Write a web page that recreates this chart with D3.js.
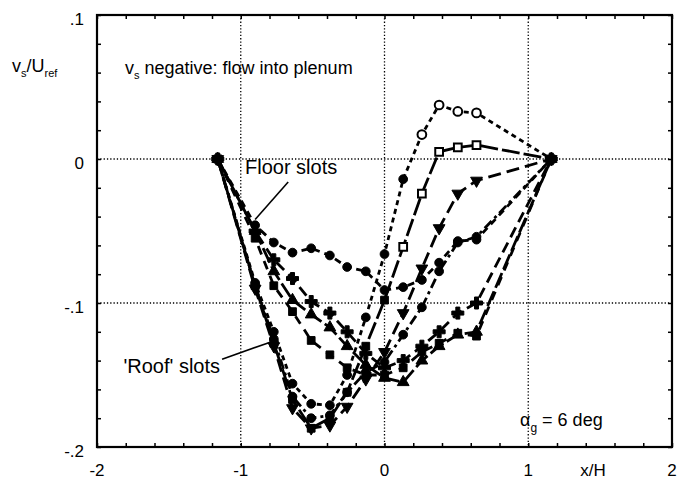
<!DOCTYPE html>
<html><head><meta charset="utf-8">
<script src="https://cdn.jsdelivr.net/npm/d3@7"></script>
<style>html,body{margin:0;padding:0;background:#fff;}svg{display:block;font-family:"Liberation Sans",Arial,Helvetica,sans-serif;}</style>
</head><body>
<svg id="c" width="682" height="482"></svg>
<script>
// ---- data ----
const xPos = [-1.16, -0.9, -0.77, -0.64, -0.51, -0.38, -0.26, -0.13, 0, 0.13, 0.26, 0.38, 0.51, 0.64, 1.16];
// Floor slots
const floorCircles   = [0, -0.046, -0.058, -0.065, -0.062, -0.067, -0.075, -0.078, -0.091, -0.089, -0.084, -0.072, -0.057, -0.056, 0];
const floorPlus      = [0, -0.050, -0.070, -0.083, -0.099, -0.107, -0.120, -0.135, -0.145, -0.140, -0.130, -0.120, -0.107, -0.100, 0];
const floorTriangles = [0, -0.050, -0.078, -0.098, -0.108, -0.117, -0.130, -0.143, -0.152, -0.155, -0.140, -0.130, -0.122, -0.120, 0];
const floorSquares   = [0, -0.055, -0.088, -0.106, -0.126, -0.136, -0.145, -0.150, -0.150, -0.145, -0.134, -0.128, -0.121, -0.123, 0];
// 'Roof' slots
const roofCircles    = [0, -0.086, -0.120, -0.156, -0.170, -0.171, -0.150, -0.110, -0.066, -0.014, 0.017, 0.0375, 0.033, 0.032, 0];
const roofSquares    = [0, -0.088, -0.128, -0.167, -0.187, -0.180, -0.162, -0.130, -0.098, -0.061, -0.024, 0.005, 0.008, 0.0097, 0];
const roofTriangles  = [0, -0.090, -0.130, -0.173, -0.187, -0.185, -0.172, -0.153, -0.134, -0.107, -0.076, -0.048, -0.024, -0.015, 0];
const roofDots       = [0, -0.088, -0.125, -0.165, -0.180, -0.178, -0.162, -0.148, -0.141, -0.122, -0.103, -0.078, -0.058, -0.054, 0];

const xTickValues = [-2, -1, 0, 1, 2];
const xTickLabels = ["-2", "-1", "0", "1", "2"];
const yTickValues = [0.1, 0, -0.1, -0.2];
const yTickLabels = [".1", "0", "-.1", "-.2"];

// ---- styles (kept separate from data) ----
const seriesList = [
  {v: floorCircles,   m: "circle",  dash: "7,5",        hollowFrom: 99},
  {v: floorPlus,      m: "plus",    dash: "11,6",       hollowFrom: 99},
  {v: floorTriangles, m: "triUp",   dash: "16,4",       hollowFrom: 99},
  {v: floorSquares,   m: "square",  dash: "9,7",        hollowFrom: 99},
  {v: roofCircles,    m: "circle",  dash: "5,4",        hollowFrom: 0.2},
  {v: roofSquares,    m: "square",  dash: "18,4",       hollowFrom: 0.1},
  {v: roofTriangles,  m: "triDown", dash: "13,6",       hollowFrom: 99},
  {v: roofDots,       m: "circle",  dash: "10,4,3,4",   hollowFrom: 99}
];

const svg = d3.select("#c");
const x = d3.scaleLinear().domain([-2, 2]).range([97, 672]);
const y = d3.scaleLinear().domain([-0.2, 0.1]).range([447, 15]);

// grid
const g = svg.append("g");
[-1, 0, 1].forEach(v => g.append("line").attr("x1", x(v)).attr("x2", x(v)).attr("y1", y(0.1)).attr("y2", y(-0.2))
  .attr("stroke", "#000").attr("stroke-width", 1.3).attr("stroke-dasharray", "1.3,2"));
[0, -0.1].forEach(v => g.append("line").attr("x1", x(-2)).attr("x2", x(2)).attr("y1", y(v)).attr("y2", y(v))
  .attr("stroke", "#000").attr("stroke-width", 1.3).attr("stroke-dasharray", "1.3,2"));

// axes with inward minor ticks
const xt = d3.range(-2, 2.0001, 0.2);
const yt = d3.range(-0.2, 0.1001, 0.02);
svg.append("g").attr("transform", `translate(0,${y(-0.2)})`).call(d3.axisBottom(x).tickValues(xt).tickSize(-4).tickFormat("")).call(s => s.select(".domain").remove());
svg.append("g").attr("transform", `translate(0,${y(0.1)})`).call(d3.axisTop(x).tickValues(xt).tickSize(-4).tickFormat("")).call(s => s.select(".domain").remove());
svg.append("g").attr("transform", `translate(${x(-2)},0)`).call(d3.axisLeft(y).tickValues(yt).tickSize(-4).tickFormat("")).call(s => s.select(".domain").remove());
svg.append("g").attr("transform", `translate(${x(2)},0)`).call(d3.axisRight(y).tickValues(yt).tickSize(-4).tickFormat("")).call(s => s.select(".domain").remove());
svg.selectAll(".tick line").attr("stroke-width", 1.5);

// frame
svg.append("rect").attr("x", x(-2)).attr("y", y(0.1)).attr("width", x(2) - x(-2)).attr("height", y(-0.2) - y(0.1))
  .attr("fill", "none").attr("stroke", "#000").attr("stroke-width", 2.2);

// tick labels
xTickValues.forEach((v, i) => svg.append("text").attr("x", x(v)).attr("y", 476).attr("text-anchor", "middle")
  .attr("font-size", 17).text(xTickLabels[i]));
yTickValues.forEach((v, i) => svg.append("text").attr("x", 84).attr("y", y(v) + 10).attr("text-anchor", "end")
  .attr("font-size", 17).text(yTickLabels[i]));

// axis titles
svg.append("text").attr("x", 593).attr("y", 476).attr("text-anchor", "middle").attr("font-size", 17).text("x/H");
const yl = svg.append("text").attr("x", 12).attr("y", 72).attr("font-size", 18);
yl.append("tspan").text("v");
yl.append("tspan").attr("font-size", 11).attr("dy", 5).text("s");
yl.append("tspan").attr("dy", -5).text("/U");
yl.append("tspan").attr("font-size", 11).attr("dy", 5).text("ref");

// annotation
const an = svg.append("text").attr("x", 125).attr("y", 74).attr("font-size", 18);
an.append("tspan").text("v");
an.append("tspan").attr("font-size", 11).attr("dy", 5).text("s");
an.append("tspan").attr("dy", -5).text(" negative: flow into plenum");

const al = svg.append("text").attr("x", 520).attr("y", 426).attr("font-size", 18);
al.append("tspan").text("\u03B1");
al.append("tspan").attr("font-size", 12).attr("dy", 6).text("g");
al.append("tspan").attr("dy", -6).text(" = 6 deg");

svg.append("text").attr("x", 245).attr("y", 174).attr("font-size", 20).text("Floor slots");
svg.append("line").attr("x1", x(-0.67)).attr("y1", y(-0.016)).attr("x2", x(-0.9)).attr("y2", y(-0.042)).attr("stroke", "#000").attr("stroke-width", 1.6);
svg.append("text").attr("x", 220).attr("y", 373).attr("font-size", 20).attr("text-anchor", "end").text("'Roof' slots");
svg.append("line").attr("x1", x(-1.13)).attr("y1", y(-0.139)).attr("x2", x(-0.79)).attr("y2", y(-0.127)).attr("stroke", "#000").attr("stroke-width", 1.6);

// series
const line = d3.line().x(d => x(d[0])).y(d => y(d[1]));
const sym = {
  circle: d3.symbolCircle, square: d3.symbolSquare, plus: d3.symbolCross,
  triUp: d3.symbolTriangle, triDown: d3.symbolTriangle
};
seriesList.forEach(s => {
  const pts = xPos.map((xv, i) => [xv, s.v[i]]);
  svg.append("path").attr("d", line(pts)).attr("fill", "none").attr("stroke", "#000")
    .attr("stroke-width", 2.8).attr("stroke-dasharray", s.dash);
  pts.forEach(p => {
    const hollow = p[0] >= s.hollowFrom && p[0] < 1;
    const size = s.m === "plus" ? 80 : 60;
    svg.append("path").attr("d", d3.symbol().type(sym[s.m]).size(size)())
      .attr("transform", `translate(${x(p[0])},${y(p[1])})` + (s.m === "triDown" ? " rotate(180)" : ""))
      .attr("fill", hollow ? "#fff" : "#000").attr("stroke", "#000").attr("stroke-width", hollow ? 2 : 1);
  });
});
</script>
</body></html>
